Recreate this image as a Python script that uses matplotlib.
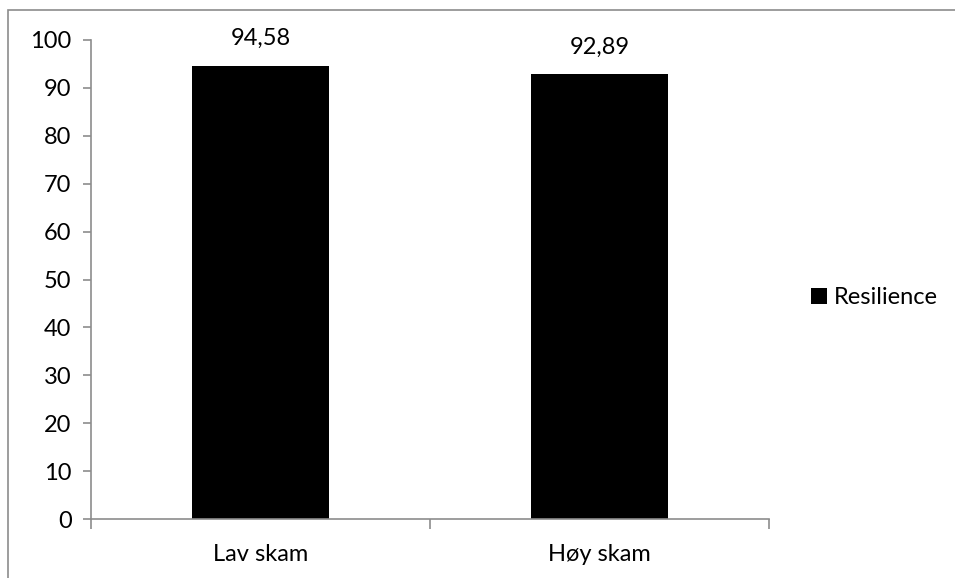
import numpy as np
import matplotlib.pyplot as plt
from matplotlib.patches import Rectangle

plt.rcParams['font.family'] = ['Lato', 'DejaVu Sans']

# Data
categories = ['Lav skam', 'Høy skam']
resilience = [94.58, 92.89]
value_labels = ['94,58', '92,89']
series_name = 'Resilience'

fig = plt.figure(figsize=(9.55, 5.78), dpi=100)
ax = fig.add_axes([91 / 955, 1 - 519 / 578, (769 - 91) / 955, (519 - 40) / 578])

# chart frame (right and bottom edges sit outside the image)
fig.patches.append(Rectangle((8 / 955, -0.1), 1.2, 1 - 10 / 578 + 0.1,
                             transform=fig.transFigure, fill=False,
                             edgecolor='#8c8c8c', linewidth=1.2))

x = np.arange(len(categories))
bars = ax.bar(x, resilience, width=0.404, color='black', label=series_name)

for xi, v, lab in zip(x, resilience, value_labels):
    ax.annotate(lab, (xi, v), xytext=(0, 12), textcoords='offset points',
                ha='center', va='bottom', fontsize=17)

ax.set_xlim(-0.5, 1.5)
ax.set_ylim(0, 100)
ax.set_yticks(range(0, 101, 10))
ax.set_xticks(x)
ax.set_xticklabels(categories)
ax.set_xticks([-0.5, 0.5, 1.5], minor=True)

for s in ['top', 'right']:
    ax.spines[s].set_visible(False)
for s in ['left', 'bottom']:
    ax.spines[s].set_color('#8c8c8c')
    ax.spines[s].set_linewidth(1.2)

ax.tick_params(axis='y', direction='out', length=6, width=1.2, color='#8c8c8c',
               labelsize=17, pad=8)
ax.tick_params(axis='x', which='major', length=0, labelsize=17, pad=18)
ax.tick_params(axis='x', which='minor', direction='out', length=7, width=1.2,
               color='#8c8c8c')

fig.legend(handles=[bars], labels=[series_name], loc='center left',
           bbox_to_anchor=(790 / 955, 1 - 298 / 578), frameon=False,
           fontsize=17, handlelength=0.65, handleheight=0.65,
           handletextpad=0.3)

fig.savefig('out.png', dpi=100)
